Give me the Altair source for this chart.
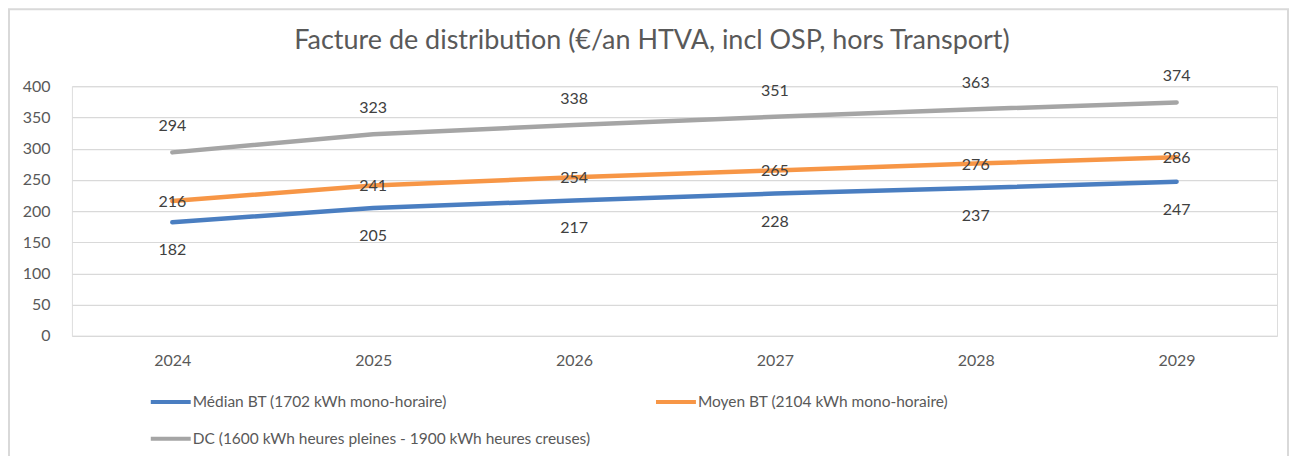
import altair as alt
import pandas as pd

years = ["2024", "2025", "2026", "2027", "2028", "2029"]
median_bt = [182, 205, 217, 228, 237, 247]
moyen_bt = [216, 241, 254, 265, 276, 286]
dc = [294, 323, 338, 351, 363, 374]
y_ticks = [0, 50, 100, 150, 200, 250, 300, 350, 400]

title_text = "Facture de distribution (€/an HTVA, incl OSP, hors Transport)"
s_med = "Médian BT (1702 kWh mono-horaire)"
s_moy = "Moyen BT (2104 kWh mono-horaire)"
s_dc = "DC (1600 kWh heures pleines - 1900 kWh heures creuses)"
series_names = [s_med, s_moy, s_dc]
series_colors = ["#4A7EC1", "#F79646", "#A5A5A5"]

rows = []
for name, vals in zip(series_names, [median_bt, moyen_bt, dc]):
    for y, v in zip(years, vals):
        rows.append({"year": y, "value": v, "series": name})
df = pd.DataFrame(rows)

FONT = "Lato"
W, H = 1207, 250

x_enc = alt.X("year:O", scale=alt.Scale(type="point", padding=0.5),
              axis=alt.Axis(title=None, labelAngle=0, domain=False, ticks=False,
                            labelPadding=17, labelFontSize=16, labelColor="#595959",
                            labelFont=FONT, grid=False))
y_enc = alt.Y("value:Q", scale=alt.Scale(domain=[0, 400], nice=False),
              axis=alt.Axis(title=None, values=y_ticks,
                            domain=False, ticks=False, labelPadding=22, labelFontSize=16,
                            labelOverlap=False,
                            labelColor="#595959", labelFont=FONT, gridColor="#D9D9D9",
                            gridWidth=1.2))

one = pd.DataFrame({"t": [title_text]})

border = alt.Chart(one).mark_rect(
    fill="transparent", stroke="#D9D9D9", strokeWidth=2, clip=False
).encode(x=alt.value(-63), x2=alt.value(1218), y=alt.value(-77), y2=alt.value(500))

title = alt.Chart(one).mark_text(
    font=FONT, fontSize=27, color="#595959", baseline="alphabetic", align="center"
).encode(x=alt.value(581), y=alt.value(-37.5), text="t:N")

base = alt.Chart(df)

lines = base.mark_line(strokeWidth=4.5, strokeCap="round").encode(
    x=x_enc, y=y_enc,
    color=alt.Color("series:N",
                    scale=alt.Scale(domain=series_names, range=series_colors),
                    sort=series_names,
                    legend=alt.Legend(title=None, orient="none", legendX=77, legendY=294,
                                      columns=2, columnPadding=57, rowPadding=6,
                                      symbolType="stroke", symbolSize=1600,
                                      symbolStrokeWidth=4, labelFontSize=15.5,
                                      labelFont=FONT, labelColor="#595959",
                                      labelOffset=0, labelLimit=1000,
                                      direction="horizontal")),
)

lab_style = dict(font=FONT, fontSize=16, color="#404040")
lab_dc = base.transform_filter(alt.datum.series == s_dc).mark_text(dy=-26, **lab_style).encode(
    x=x_enc, y=y_enc, text="value:Q")
lab_moy = base.transform_filter(alt.datum.series == s_moy).mark_text(dy=1, **lab_style).encode(
    x=x_enc, y=y_enc, text="value:Q")
lab_med = base.transform_filter(alt.datum.series == s_med).mark_text(dy=28, **lab_style).encode(
    x=x_enc, y=y_enc, text="value:Q")

chart = alt.layer(border, title, lines, lab_dc, lab_moy, lab_med).properties(
    width=W, height=H,
    autosize=alt.AutoSizeParams(type="none"),
    padding={"left": 64, "top": 78, "right": 20, "bottom": 120},
).configure_view(stroke=None).configure(background="white")

chart.save("out.html", embed_options={"renderer": "svg", "actions": False})
